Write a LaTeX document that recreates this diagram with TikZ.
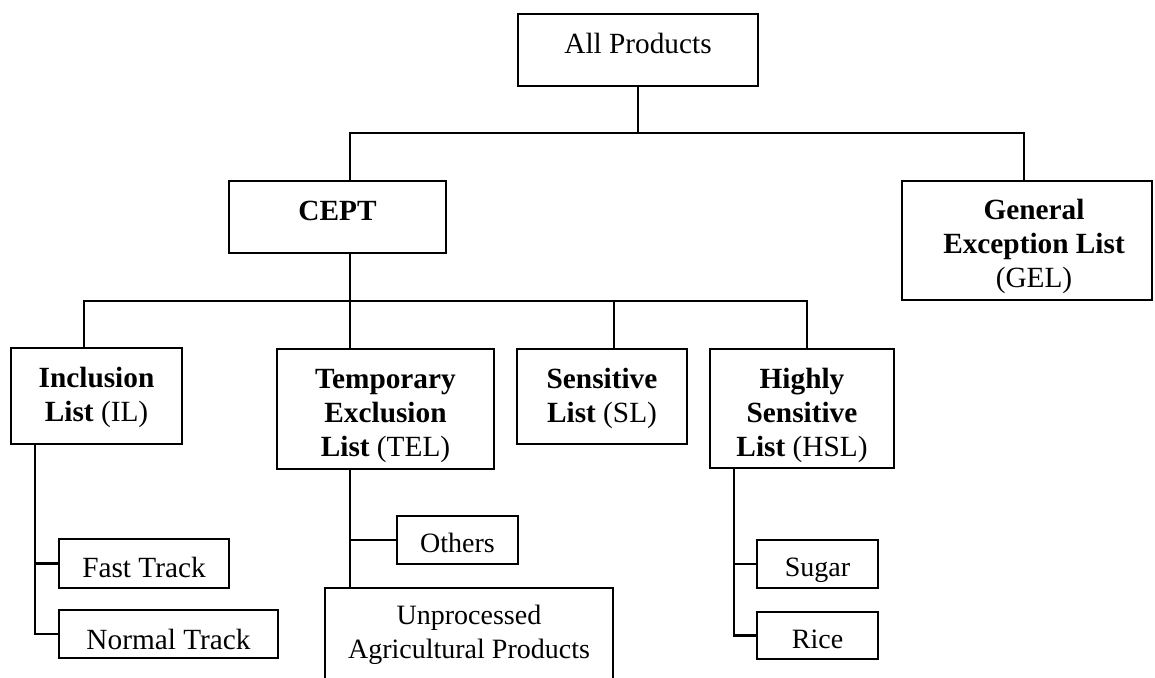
\documentclass[tikz,border=0pt]{standalone}
\usepackage{fontspec}
\setmainfont{Liberation Serif}
\begin{document}
\begin{tikzpicture}[x=1pt, y=-1pt,
  pbox/.style={draw, line width=2.6pt, inner sep=0pt, outer sep=0pt, anchor=north west},
  lbl/.style={font=\fontsize{29.3}{34}\selectfont, align=center, inner sep=0pt, anchor=north},
  lblsmall/.style={lbl, font=\fontsize{28}{34}\selectfont},
  wire/.style={line width=2.6pt}]
\useasboundingbox (0,0) rectangle (1155,677);
\fill[white] (0,0) rectangle (1155,677);
\clip (0,0) rectangle (1155,677);

% boxes
\node[pbox, minimum width=240pt, minimum height=72pt]  (all)    at (518,14)  {};
\node[pbox, minimum width=217pt, minimum height=72pt]  (cept)   at (229,181) {};
\node[pbox, minimum width=250pt, minimum height=119pt] (gel)    at (902,181) {};
\node[pbox, minimum width=171pt, minimum height=96pt]  (il)     at (11,348)  {};
\node[pbox, minimum width=217pt, minimum height=120pt] (tel)    at (277,349) {};
\node[pbox, minimum width=170pt, minimum height=95pt]  (sl)     at (517,349) {};
\node[pbox, minimum width=184pt, minimum height=119pt] (hsl)    at (710,349) {};
\node[pbox, minimum width=170pt, minimum height=49pt]  (fast)   at (59,539)  {};
\node[pbox, minimum width=219pt, minimum height=48pt]  (normal) at (59,610)  {};
\node[pbox, minimum width=121pt, minimum height=48pt]  (others) at (397,516) {};
\node[pbox, minimum width=288pt, minimum height=130pt] (agri)   at (325,588) {};
\node[pbox, minimum width=121pt, minimum height=48pt]  (sugar)  at (757,540) {};
\node[pbox, minimum width=121pt, minimum height=47pt]  (rice)   at (757,612) {};

% texts, set from the top of each box
\node[lbl] (all-t)    at ([yshift=-15pt]all.north)    {\strut All Products};
\node[lbl] (cept-t)   at ([yshift=-15pt]cept.north)   {\strut\textbf{CEPT}};
\node[lbl] (gel-t)    at ([xshift=7pt,yshift=-14pt]gel.north) {\strut\textbf{General}\\\textbf{Exception List}\\(GEL)};
\node[lbl] (il-t)     at ([yshift=-15pt]il.north)     {\strut\textbf{Inclusion}\\\textbf{List} (IL)};
\node[lbl] (tel-t)    at ([yshift=-15pt]tel.north)    {\strut\textbf{Temporary}\\\textbf{Exclusion}\\\textbf{List} (TEL)};
\node[lbl] (sl-t)     at ([yshift=-15pt]sl.north)     {\strut\textbf{Sensitive}\\\textbf{List} (SL)};
\node[lbl] (hsl-t)    at ([yshift=-15pt]hsl.north)    {\strut\textbf{Highly}\\\textbf{Sensitive}\\\textbf{List} (HSL)};
\node[lbl] (fast-t)   at ([yshift=-14.5pt]fast.north) {\strut Fast Track};
\node[lbl] (normal-t) at ([yshift=-15pt]normal.north) {\strut Normal Track};
\node[lblsmall] (others-t) at ([yshift=-12.5pt]others.north) {\strut Others};
\node[lblsmall] (agri-t)   at ([yshift=-12pt]agri.north)   {\strut Unprocessed\\Agricultural Products};
\node[lblsmall] (sugar-t)  at ([yshift=-12pt]sugar.north)  {\strut Sugar};
\node[lblsmall] (rice-t)   at ([yshift=-12pt]rice.north)   {\strut Rice};

% junction points of the buses and branch lines
\coordinate (j1) at (638,133);
\coordinate (j2) at (350,301);
\coordinate (ilb)  at ([xshift=-61.5pt]il.south);
\coordinate (telb) at ([xshift=-35.5pt]tel.south);
\coordinate (hslb) at ([xshift=-68pt]hsl.south);

% top level
\draw[wire] (all.south) -- (all.south |- j1);
\draw[wire] ([xshift=12.5pt]cept.north) |- (j1) -| ([xshift=-3pt]gel.north);

% CEPT lists
\draw[wire] ([xshift=12.5pt]cept.south) -- ([xshift=12.5pt]cept.south |- j2);
\draw[wire] ([xshift=-12.5pt]il.north) |- (j2) -| ([xshift=5pt]hsl.north);
\draw[wire] ([xshift=-35.5pt]tel.north) -- ([xshift=-35.5pt]tel.north |- j2);
\draw[wire] ([xshift=12pt]sl.north) -- ([xshift=12pt]sl.north |- j2);

% inclusion list tracks
\draw[wire] (ilb) |- (normal.west);
\draw[wire] (fast.west) -- (fast.west -| ilb);

% temporary exclusion list
\draw[wire] (telb) -- (telb |- agri.north);
\draw[wire] (others.west) -- (others.west -| telb);

% highly sensitive list
\draw[wire] (hslb) |- (rice.west);
\draw[wire] (sugar.west) -- (sugar.west -| hslb);
\end{tikzpicture}
\end{document}
